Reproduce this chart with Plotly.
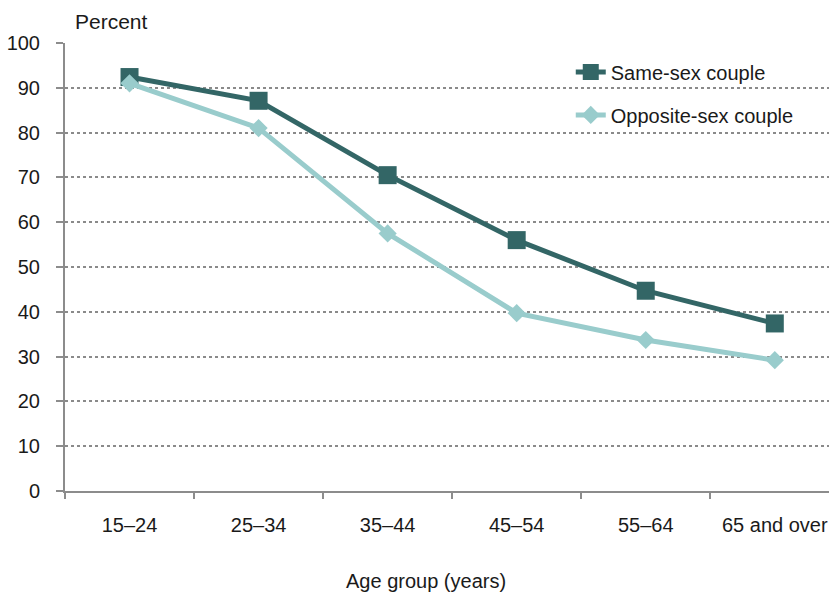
import plotly.graph_objects as go

# Share of people in couple relationships, by age group
age_groups = ["15–24", "25–34", "35–44", "45–54", "55–64", "65 and over"]
same_sex = [92.4, 87.1, 70.5, 56.0, 44.7, 37.4]
opposite_sex = [91.0, 81.0, 57.5, 39.7, 33.7, 29.2]
y_ticks = [0, 10, 20, 30, 40, 50, 60, 70, 80, 90, 100]

DARK = "#336666"
LIGHT = "#99CCCC"
AXIS = "#8c8c8c"
FONT = "Liberation Sans, Arial, sans-serif"

fig = go.Figure()
fig.add_trace(go.Scatter(
    x=age_groups, y=same_sex, name="Same-sex couple",
    mode="lines+markers", legendgroup="a",
    line=dict(color=DARK, width=5),
    marker=dict(symbol="square", size=18, color=DARK),
    hoverinfo="skip",
))
fig.add_trace(go.Scatter(
    x=age_groups, y=opposite_sex, name="Opposite-sex couple",
    mode="lines+markers", legendgroup="b",
    line=dict(color=LIGHT, width=5),
    marker=dict(symbol="diamond", size=14, color=LIGHT),
    hoverinfo="skip",
))

fig.update_layout(
    width=829, height=597,
    margin=dict(l=65, r=0, t=43, b=106),
    paper_bgcolor="white", plot_bgcolor="white",
    font=dict(family=FONT, size=20, color="#1a1a1a"),
    showlegend=True,
    legend=dict(
        x=0.662, y=0.979, xanchor="left", yanchor="top",
        bgcolor="rgba(0,0,0,0)", font=dict(size=20),
        tracegroupgap=14, traceorder="grouped",
    ),
    xaxis=dict(
        type="category", range=[-0.5, 5.42],
        showline=True, linecolor=AXIS, linewidth=2,
        ticks="outside", tickson="boundaries", ticklen=6,
        tickcolor=AXIS, tickwidth=2,
        showgrid=False, ticklabelstandoff=15,
        fixedrange=True,
    ),
    yaxis=dict(
        range=[0, 100], tickvals=y_ticks,
        showline=True, linecolor=AXIS, linewidth=2,
        ticks="outside", ticklen=7, tickcolor=AXIS, tickwidth=2,
        showgrid=True, gridcolor="#8a8a8a", griddash="dot", gridwidth=1.5,
        zeroline=False, ticklabelstandoff=12,
        fixedrange=True,
    ),
    annotations=[
        dict(text="Percent", xref="paper", yref="paper",
             x=0.0615, y=1.047, xanchor="center", yanchor="middle",
             showarrow=False, font=dict(size=21)),
        dict(text="Age group (years)", xref="paper", yref="paper",
             x=0.4725, y=-0.2009, xanchor="center", yanchor="middle",
             showarrow=False, font=dict(size=20)),
    ],
)

fig.write_html("out.html")
